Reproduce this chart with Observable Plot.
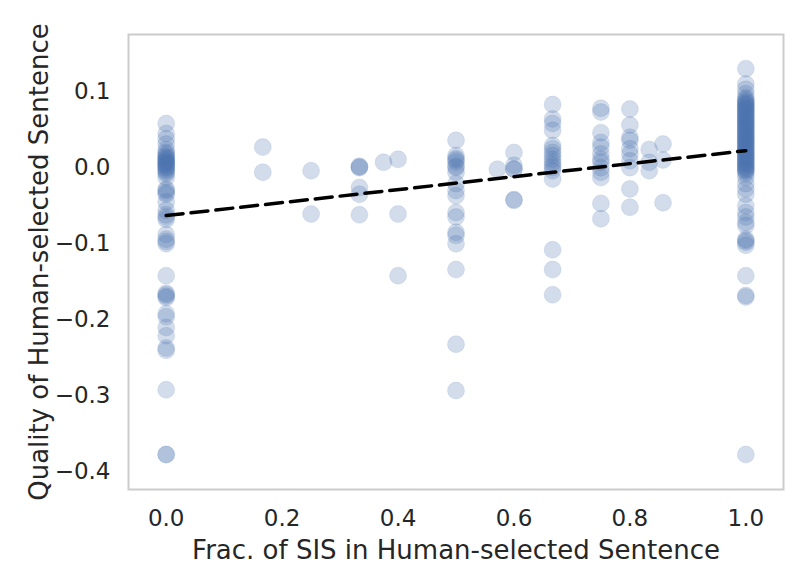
<!DOCTYPE html>
<html>
<head>
<meta charset="utf-8">
<script src="https://cdn.jsdelivr.net/npm/d3@7"></script>
<script src="https://cdn.jsdelivr.net/npm/@observablehq/plot@0.6"></script>
<style>
  html, body { margin: 0; padding: 0; background: #fff; }
  #chart { width: 800px; height: 583px; }
</style>
</head>
<body>
<div id="chart"></div>
<script>
// Fraction of SIS in human-selected sentence (x categories)
const fracs = [0, 1/6, 0.25, 1/3, 0.375, 0.4, 0.5, 4/7, 0.6, 2/3, 0.75, 0.8, 5/6, 6/7, 1];

// Quality values per x category
const q_0 = [0.058, 0.045, 0.038, 0.031, 0.024, 0.020, 0.018, 0.015, 0.014, 0.012, 0.011, 0.009, 0.008, 0.007, 0.005,
  0.004, 0.003, 0.001, 0.000, -0.002, -0.004, -0.006, -0.008, -0.013, -0.028, -0.030, -0.033, -0.035, -0.045,
  -0.056, -0.062, -0.065, -0.068, -0.088, -0.094, -0.097, -0.100, -0.142, -0.165, -0.167, -0.169, -0.171,
  -0.192, -0.196, -0.210, -0.221, -0.237, -0.240, -0.292, -0.377, -0.377];
const q_1_6 = [0.027, -0.006];
const q_1_4 = [-0.004, -0.061];
const q_1_3 = [0.002, 0.001, 0.000, -0.026, -0.035, -0.062];
const q_3_8 = [0.007];
const q_2_5 = [0.011, -0.061, -0.142];
const q_1_2 = [0.036, 0.016, 0.012, 0.010, 0.007, 0.002, 0.000, -0.006, -0.021, -0.030, -0.037, -0.059, -0.065,
  -0.085, -0.089, -0.100, -0.134, -0.232, -0.293];
const q_4_7 = [-0.002];
const q_3_5 = [0.020, 0.003, -0.002, -0.002, -0.042, -0.043];
const q_2_3 = [0.083, 0.064, 0.058, 0.049, 0.029, 0.025, 0.020, 0.016, 0.011, 0.007, 0.003, 0.000, -0.004, -0.015,
  -0.108, -0.134, -0.167];
const q_3_4 = [0.078, 0.073, 0.046, 0.033, 0.027, 0.018, 0.011, 0.007, 0.000, -0.006, -0.013, -0.047, -0.067];
const q_4_5 = [0.077, 0.056, 0.040, 0.036, 0.025, 0.018, 0.009, 0.000, -0.028, -0.052];
const q_5_6 = [0.024, 0.007, -0.004];
const q_6_7 = [0.031, 0.010, -0.046];
const q_1 = [0.130, 0.110, 0.103, 0.097, 0.092, 0.090, 0.088, 0.086, 0.085, 0.083, 0.082, 0.080, 0.079, 0.077,
  0.076, 0.074, 0.073, 0.071, 0.070, 0.068, 0.067, 0.065, 0.064, 0.062, 0.061, 0.059, 0.058, 0.056, 0.055, 0.053,
  0.052, 0.050, 0.049, 0.047, 0.046, 0.044, 0.043, 0.041, 0.040, 0.038, 0.037, 0.035, 0.034, 0.032, 0.031, 0.029,
  0.028, 0.026, 0.025, 0.023, 0.022, 0.020, 0.019, 0.017, 0.016, 0.014, 0.013, 0.011, 0.010, 0.008, 0.007, 0.005,
  0.004, 0.002, 0.001, -0.001, -0.002, -0.004, -0.005, -0.008, -0.013, -0.021, -0.028, -0.035, -0.050, -0.059,
  -0.065, -0.072, -0.076, -0.094, -0.096, -0.098, -0.102, -0.142, -0.168, -0.170, -0.377];

const columns = [q_0, q_1_6, q_1_4, q_1_3, q_3_8, q_2_5, q_1_2, q_4_7, q_3_5, q_2_3, q_3_4, q_4_5, q_5_6, q_6_7, q_1];

// Fitted regression line
const fitIntercept = -0.063;
const fitSlope = 0.0853;

const xTicks = [0, 0.2, 0.4, 0.6, 0.8, 1.0];
const yTicks = [-0.4, -0.3, -0.2, -0.1, 0.0, 0.1];
const xLabel = "Frac. of SIS in Human-selected Sentence";
const yLabel = "Quality of Human-selected Sentence";

const points = [];
columns.forEach((col, i) => col.forEach(v => points.push({frac: fracs[i], quality: v})));
const fitLine = [0, 1].map(x => ({frac: x, quality: fitIntercept + fitSlope * x}));

const fmt = d3.format(".1f");
const textColor = "#262626";

const chart = Plot.plot({
  width: 800,
  height: 583,
  marginLeft: 128,
  marginRight: 17,
  marginTop: 34,
  marginBottom: 94,
  x: {domain: [-0.065, 1.065]},
  y: {domain: [-0.423, 0.175]},
  style: {fontFamily: "DejaVu Sans", color: textColor, background: "#ffffff"},
  marks: [
    Plot.dot(points, {x: "frac", y: "quality", r: 8.5, fill: "#4c72b0", fillOpacity: 0.25,
      stroke: "#4c72b0", strokeOpacity: 0.12, strokeWidth: 1}),
    Plot.line(fitLine, {x: "frac", y: "quality", stroke: "#000000", strokeWidth: 3.5,
      strokeDasharray: "17,8"}),
    Plot.frame({stroke: "#cccccc", strokeWidth: 2}),
    Plot.axisX({ticks: xTicks, tickSize: 0, tickPadding: 20, tickFormat: fmt, fontSize: 23, label: null, fill: textColor}),
    Plot.axisY({ticks: yTicks, tickSize: 0, tickPadding: 18, tickFormat: fmt, fontSize: 23, label: null, fill: textColor}),
    Plot.text([xLabel], {text: d => d, frameAnchor: "bottom", textAnchor: "middle", lineAnchor: "middle",
      dy: 61, fontSize: 26, fill: textColor}),
    Plot.text([yLabel], {text: d => d, frameAnchor: "left", textAnchor: "middle", lineAnchor: "middle",
      rotate: -90, dx: -89, fontSize: 26, fill: textColor})
  ]
});
document.getElementById("chart").appendChild(chart);
</script>
</body>
</html>
